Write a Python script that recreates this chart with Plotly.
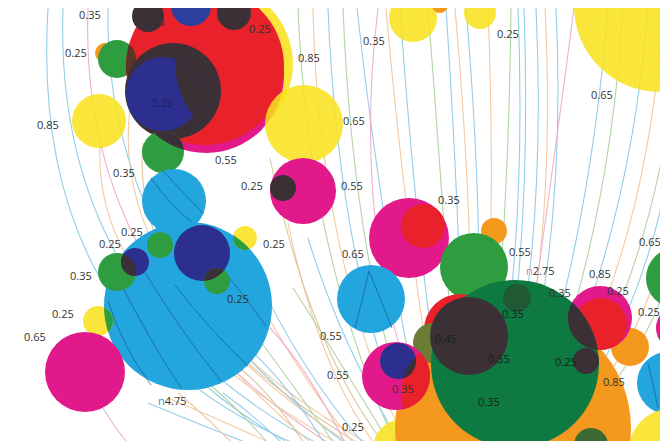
import math
import plotly.graph_objects as go

W, H = 668, 441

PALETTE = {
    "YEL": "#f9e21b", "MAG": "#e2198b", "RED": "#e9212a", "CYAN": "#23a5dd",
    "NAVY": "#2d2f8f", "DARK": "#3b3036", "GRN": "#2e9d3f", "DKGRN": "#0e7a41",
    "ORG": "#f4981e", "OLIVE": "#6b7d35", "BLUE": "#2b3f9e", "BROWN": "#5a3526",
    "DGRN2": "#1f5a35", "MOSS": "#3d6a32",
}

# ---- circles (centre x, centre y, radius, colour key; None = helper only) ----
circle_x = [652, 405, 472, 432, 97, 109, 205, 198, 197, 140, 226, 183, 165, 155, 257,
            155, 91, 166, 180, 152, 194, 209, 109, 127, 237, 90, 77, 296, 295, 275,
            401, 415, 486, 363, 466, 395, 505, 668, 670, 622, 660, 665, 592, 593,
            452, 425, 507, 461, 509, 578, 583, 388, 445, 390]
circle_y = [-2, 10, 5, -3, 45, 51, 56, 67, 58, 8, 5, -2, 83, 86, 53,
            144, 113, 193, 298, 237, 245, 273, 264, 254, 230, 313, 364, 116, 183, 180,
            230, 218, 223, 291, 259, 441, 420, 270, 320, 339, 375, 445, 310, 316,
            322, 335, 356, 328, 290, 353, 437, 368, 385, 353]
circle_r = [86, 24, 16, 8, 10, 19, 80, 78, 79, 16, 17, 20, 48, 37, 90,
            21, 27, 32, 84, 13, 28, 13, 19, 14, 12, 15, 40, 39, 33, 13,
            40, 22, 13, 34, 34, 30, 118, 30, 22, 19, 31, 45, 32, 26,
            36, 20, 84, 39, 14, 13, 17, 34, 52, 18]
circle_c = ["YEL", "YEL", "YEL", "ORG", "ORG", "GRN", "YEL", "MAG", "RED", "DARK", "DARK", "BLUE", "DARK", "NAVY", None,
            "GRN", "YEL", "CYAN", "CYAN", "GRN", "NAVY", "GRN", "GRN", "NAVY", "YEL", "YEL", "MAG", "YEL", "MAG", "DARK",
            "MAG", "RED", "ORG", "CYAN", "GRN", "YEL", "ORG", "GRN", "MAG", "ORG", "CYAN", "YEL", "MAG", "RED",
            "RED", "OLIVE", "DKGRN", "DARK", "DGRN2", "DARK", "MOSS", "MAG", None, "NAVY"]

# ---- overlap regions (circle a, circle b, colour) ----
ov_a = [5, 13, 15, 20, 22, 18, 18, 37, 42, 51, 53, 50]
ov_b = [8, 14, 7, 21, 23, 24, 25, 38, 46, 52, 52, 46]
ov_c = ["BROWN", "DARK", "DARK", "DARK", "DARK", "GRN", "GRN", "DARK", "DARK", "RED", "DARK", "DGRN2"]

# ---- background flow lines (start, control, end, colour) ----
LINE_COL = {"LB": "#93cde7", "PE": "#f3c9a3", "PK": "#efb1cd", "LG": "#b2d4a6", "TN": "#dcc79c"}
ln_x0 = [300, 320, 330, 345, 350, 360, 340, 370, 125, 290, 310, 330, 350, 360, 370, 380, 275, 255,
         390, 400, 405, 410, 420, 430, 435, 440, 450, 455, 460, 465, 470, 475, 480, 485, 490, 495,
         500, 505, 510, 515, 520, 525, 530, 535, 540, 545,
         230, 265, 300, 320, 340, 385, 395, 280]
ln_y0 = [441] * 54
ln_xc = [20, 45, 70, 95, 100, 120, 85, 150, 110, 220, 250, 280, 300, 290, 310, 300, 220, 200,
         300, 310, 330, 345, 375, 340, 400, 410, 440, 455, 470, 480, 490, 500, 520, 525, 540, 550,
         560, 540, 580, 600, 620, 640, 640, 640, 650, 655,
         200, 230, 260, 280, 300, 330, 330, 250]
ln_yc = [330, 300, 280, 260, 280, 300, 300, 320, 425, 400, 390, 370, 380, 360, 360, 340, 415, 420,
         250, 250, 260, 260, 240, 250, 250, 260, 260, 260, 260, 260, 260, 260, 250, 260, 250, 260,
         250, 200, 250, 250, 250, 260, 300, 320, 330, 340,
         410, 400, 380, 375, 360, 350, 330, 410]
ln_x1 = [40, 55, 80, 100, 122, 135, 92, 150, 95, 190, 215, 250, 255, 245, 280, 262, 160, 140,
         290, 305, 320, 335, 349, 370, 378, 392, 420, 438, 447, 458, 480, 503, 510, 516, 528, 537,
         548, 566, 600, 615, 640, 655, 668, 668, 668, 668,
         170, 200, 225, 240, 262, 285, 300, 215]
ln_y1 = [0, 0, 0, 0, 100, 135, 140, 165, 400, 370, 350, 330, 300, 260, 215, 150, 390, 395,
         0, 0, 0, 0, 0, 0, 0, 0, 0, 0, 0, 0, 0, 0, 0, 0, 0, 0,
         0, 0, 0, 0, 0, 0, 60, 120, 180, 230,
         385, 375, 355, 340, 320, 280, 230, 385]
ln_c = ["LB", "LB", "PK", "LB", "PE", "TN", "PE", "PE", "PK", "LB", "PE", "LG", "PE", "LB", "PE", "TN", "PE", "LB",
        "LG", "PE", "LB", "LG", "LB", "PK", "PE", "LB", "LG", "LB", "PE", "LB", "PE", "LG", "LB", "LB", "LB", "PE",
        "LB", "PK", "LB", "LG", "LB", "PE", "LG", "LB", "PE", "LG",
        "PE", "LG", "TN", "LB", "PK", "LG", "LB", "LB"]

# ---- overprinted lines seen through the cyan discs (drawn after circle index) ----
in_x0 = [110, 133, 167, 207, 100, 143, 155, 361, 361, 640]
in_y0 = [270, 258, 277, 253, 293, 170, 163, 263, 263, 355]
in_xc = [140, 170, 200, 235, 115, 160, 175, 355, 372, 645]
in_yc = [330, 320, 320, 285, 340, 195, 185, 290, 290, 375]
in_x1 = [173, 213, 240, 258, 143, 187, 195, 347, 384, 650]
in_y1 = [380, 373, 358, 318, 377, 217, 205, 320, 320, 400]
in_after = [18, 18, 18, 18, 18, 17, 17, 33, 33, 40]

# ---- labels ----
lab_text = ["0.35", "0.25", "0.25", "0.55", "0.25", "0.85", "0.85", "0.25", "0.55", "0.35",
            "0.25", "0.65", "0.55", "0.35", "0.35", "0.25", "0.65", "0.25", "0.25", "0.25",
            "0.35", "0.25", "0.25", "0.65", "n4.75", "0.55", "0.55", "0.65", "0.55", "n2.75",
            "0.85", "0.65", "0.25", "0.25", "0.35", "0.35", "0.45", "0.55", "0.25", "0.35",
            "0.85", "0.35", "0.25"]
lab_x = [82, 146, 252, 282, 68, 301, 40, 154, 218, 116,
         244, 346, 344, 441, 366, 500, 594, 266, 102, 124,
         73, 230, 55, 27, 164, 323, 330, 345, 512, 532,
         592, 642, 610, 641, 505, 552, 438, 491, 558, 395,
         606, 481, 345]
lab_y = [6, 13, 20, -2, 44, 49, 116, 94, 151, 164,
         177, 112, 177, 191, 32, 25, 86, 235, 235, 223,
         267, 290, 305, 328, 392, 327, 366, 245, 243, 262,
         265, 233, 282, 303, 305, 284, 330, 350, 353, 380,
         373, 393, 418]
lab_col = ["#333333"] * len(lab_text)
lab_col[7] = "#1b1e5e"
for k in (34, 36, 37, 38, 41):
    lab_col[k] = "#15241a"


def lens_path(a, b, n=720):
    pts = []
    for p, q in ((a, b), (b, a)):
        for k in range(n):
            t = 2 * math.pi * k / n
            px = circle_x[p] + circle_r[p] * math.cos(t)
            py = circle_y[p] + circle_r[p] * math.sin(t)
            if (px - circle_x[q]) ** 2 + (py - circle_y[q]) ** 2 <= circle_r[q] ** 2:
                pts.append((px, py))
    if len(pts) < 3:
        return None
    mx = sum(p[0] for p in pts) / len(pts)
    my = sum(p[1] for p in pts) / len(pts)
    pts.sort(key=lambda p: math.atan2(p[1] - my, p[0] - mx))
    return "M " + " L ".join(f"{x:.2f},{y:.2f}" for x, y in pts) + " Z"


shapes = []
# background lines
for i in range(len(ln_x0)):
    shapes.append(dict(
        type="path", xref="x", yref="y", layer="above",
        path=f"M {ln_x0[i]},{ln_y0[i]} Q {ln_xc[i]},{ln_yc[i]} {ln_x1[i]},{ln_y1[i]}",
        line=dict(color=LINE_COL[ln_c[i]], width=1.1)))

# circles, overlaps, overprint lines
for i in range(len(circle_x)):
    if circle_c[i] is not None:
        col = PALETTE[circle_c[i]]
        shapes.append(dict(
            type="circle", xref="x", yref="y", layer="above",
            x0=circle_x[i] - circle_r[i], x1=circle_x[i] + circle_r[i],
            y0=circle_y[i] - circle_r[i], y1=circle_y[i] + circle_r[i],
            fillcolor=col, opacity=0.86 if circle_c[i] == "YEL" else 1.0,
            line=dict(width=0)))
    for k in range(len(ov_a)):
        if max(ov_a[k], ov_b[k]) == i:
            p = lens_path(ov_a[k], ov_b[k])
            if p:
                shapes.append(dict(type="path", xref="x", yref="y", layer="above", path=p,
                                   fillcolor=PALETTE[ov_c[k]], line=dict(width=0)))
    for k in range(len(in_x0)):
        if in_after[k] == i:
            shapes.append(dict(
                type="path", xref="x", yref="y", layer="above",
                path=f"M {in_x0[k]},{in_y0[k]} Q {in_xc[k]},{in_yc[k]} {in_x1[k]},{in_y1[k]}",
                line=dict(color="#17609a", width=1), opacity=0.75))

annotations = []
for i, t in enumerate(lab_text):
    if t.startswith("n"):
        ncol = "#2a8fd0" if t == "n4.75" else "#e27bb0"
        txt = f"<span style='color:{ncol}'>n</span>{t[1:]}"
    else:
        txt = t
    annotations.append(dict(x=lab_x[i], y=lab_y[i], xref="x", yref="y", text=txt,
                            showarrow=False, xanchor="center", yanchor="middle",
                            font=dict(family="Open Sans", size=11, color=lab_col[i])))

fig = go.Figure(go.Scatter(x=[], y=[], mode="markers", showlegend=False))
fig.update_layout(
    width=W, height=H, margin=dict(l=0, r=0, t=0, b=0),
    paper_bgcolor="white", plot_bgcolor="white",
    xaxis=dict(range=[0, W], visible=False, fixedrange=True),
    yaxis=dict(range=[H, 0], visible=False, fixedrange=True),
    shapes=shapes, annotations=annotations, showlegend=False,
)
fig.write_html("out.html", config={"displayModeBar": False})
